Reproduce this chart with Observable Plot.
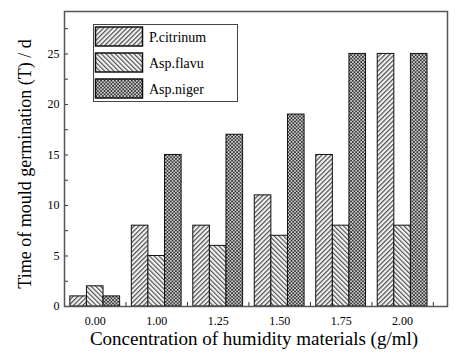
<!DOCTYPE html>
<html>
<head>
<meta charset="utf-8">
<script src="https://cdn.jsdelivr.net/npm/d3@7"></script>
<script src="https://cdn.jsdelivr.net/npm/@observablehq/plot@0.6"></script>
<style>
  html, body { margin: 0; padding: 0; background: #fff; }
  #chart svg { display: block; }
</style>
</head>
<body>
<div id="chart"></div>
<script>
const categories = ["0.00", "1.00", "1.25", "1.50", "1.75", "2.00"];
const seriesNames = ["P.citrinum", "Asp.flavu", "Asp.niger"];
const pCitrinum = [1, 8, 8, 11, 15, 25];
const aspFlavu = [2, 5, 6, 7, 8, 8];
const aspNiger = [1, 15, 17, 19, 25, 25];
const yMajorTicks = [0, 5, 10, 15, 20, 25];
const yMinorTicks = [2.5, 7.5, 12.5, 17.5, 22.5, 27.5];

const seriesValues = [pCitrinum, aspFlavu, aspNiger];
const patternIds = ["pat-cit", "pat-fla", "pat-nig"];
const barW = 0.27;

const rows = [];
seriesValues.forEach((vals, k) => {
  vals.forEach((v, i) => {
    rows.push({ i, k, series: seriesNames[k], value: v });
  });
});

const font = "'Liberation Serif', 'Times New Roman', serif";

const marks = seriesValues.map((vals, k) =>
  Plot.rectY(rows.filter(d => d.k === k), {
    x1: d => d.i - 1.5 * barW + d.k * barW,
    x2: d => d.i - 1.5 * barW + (d.k + 1) * barW,
    y1: 0,
    y2: "value",
    fill: `url(#${patternIds[k]})`,
    stroke: "#111",
    strokeWidth: 1
  })
);

const chart = Plot.plot({
  width: 469,
  height: 363,
  marginLeft: 64,
  marginRight: 22,
  marginTop: 11,
  marginBottom: 57,
  style: { fontFamily: font, background: "#fff", color: "#000" },
  x: { type: "linear", domain: [-0.5, 5.73] },
  y: { domain: [0, 29.2] },
  marks: [
    ...marks,
    Plot.axisY({ ticks: yMajorTicks, tickSize: 4, dx: 4, text: null, label: null, stroke: "#333" }),
    Plot.axisY({ ticks: yMinorTicks, tickSize: 4, dx: 4, text: null, label: null, stroke: "#333" }),
    Plot.axisY({ ticks: yMajorTicks, tickSize: 0, tickPadding: 5, label: null, fontSize: 12, tickFormat: d => d }),
    Plot.axisX({ ticks: [0.5, 1.5, 2.5, 3.5, 4.5, 5.5], tickSize: 4, dy: -4, text: null, label: null, stroke: "#333" }),
    Plot.axisX({ ticks: [0, 1, 2, 3, 4, 5], tickSize: 0, tickPadding: 10, label: null, fontSize: 12, tickFormat: i => categories[i] }),
    Plot.frame({ stroke: "#555", strokeWidth: 1.5 })
  ]
});

const svg = d3.select(chart);
const defs = svg.insert("defs", ":first-child");
// forward diagonal
const p1 = defs.append("pattern").attr("id", "pat-cit").attr("patternUnits", "userSpaceOnUse")
  .attr("width", 3.3).attr("height", 3.3).attr("patternTransform", "rotate(45)");
p1.append("rect").attr("width", 3.3).attr("height", 3.3).attr("fill", "#f2f2f2");
p1.append("rect").attr("width", 1.2).attr("height", 3.3).attr("fill", "#505050");
// backward diagonal
const p2 = defs.append("pattern").attr("id", "pat-fla").attr("patternUnits", "userSpaceOnUse")
  .attr("width", 3.3).attr("height", 3.3).attr("patternTransform", "rotate(-45)");
p2.append("rect").attr("width", 3.3).attr("height", 3.3).attr("fill", "#f4f4f4");
p2.append("rect").attr("width", 1.15).attr("height", 3.3).attr("fill", "#505050");
// checker
const p3 = defs.append("pattern").attr("id", "pat-nig").attr("patternUnits", "userSpaceOnUse")
  .attr("width", 3.4).attr("height", 3.4);
p3.append("rect").attr("width", 3.4).attr("height", 3.4).attr("fill", "#d0d0d0");
p3.append("rect").attr("width", 1.7).attr("height", 1.7).attr("fill", "#333");
p3.append("rect").attr("x", 1.7).attr("y", 1.7).attr("width", 1.7).attr("height", 1.7).attr("fill", "#333");

// axis titles
svg.append("text")
  .attr("x", 254).attr("y", 345)
  .attr("text-anchor", "middle")
  .attr("font-family", font).attr("font-size", 19).attr("fill", "#000")
  .text("Concentration of humidity materials (g/ml)");
svg.append("text")
  .attr("transform", "translate(31,164) rotate(-90)")
  .attr("text-anchor", "middle")
  .attr("font-family", font).attr("font-size", 18).attr("fill", "#000")
  .text("Time of mould germination (T) / d");

// legend
const lg = svg.append("g");
lg.append("rect").attr("x", 93.5).attr("y", 24.5).attr("width", 144).attr("height", 77)
  .attr("fill", "#fff").attr("stroke", "#444").attr("stroke-width", 1);
seriesNames.forEach((name, k) => {
  const y0 = 27 + k * 26;
  lg.append("rect").attr("x", 95.5).attr("y", y0).attr("width", 47).attr("height", 19)
    .attr("fill", `url(#${patternIds[k]})`).attr("stroke", "#111").attr("stroke-width", 1.5);
  lg.append("text").attr("x", 149).attr("y", y0 + 15)
    .attr("text-anchor", "start")
    .attr("font-family", font).attr("font-size", 14).attr("fill", "#000")
    .text(name);
});

document.getElementById("chart").appendChild(chart);
</script>
</body>
</html>
